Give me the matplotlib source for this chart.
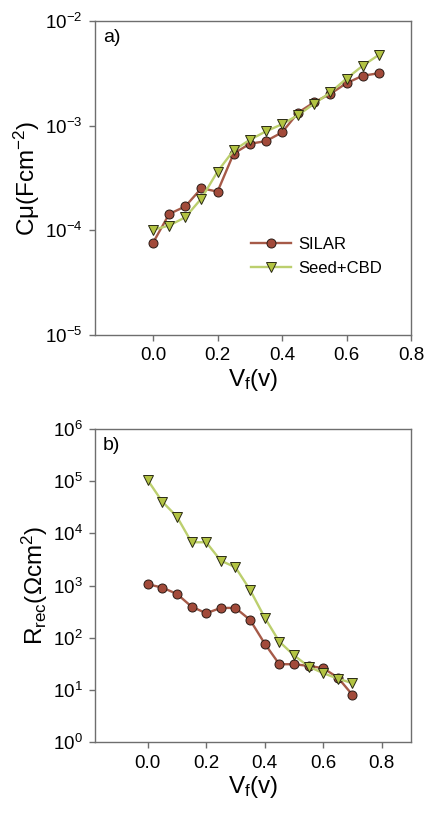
import matplotlib
matplotlib.use("Agg")
import matplotlib.pyplot as plt
import numpy as np

plt.rcParams['font.family'] = ['Liberation Sans', 'DejaVu Sans']
plt.rcParams['mathtext.fontset'] = 'custom'
plt.rcParams['mathtext.rm'] = 'Liberation Sans'
plt.rcParams['mathtext.it'] = 'Liberation Sans'
plt.rcParams['mathtext.default'] = 'regular'

# forward voltage (V)
vf = [0.0, 0.05, 0.1, 0.15, 0.2, 0.25, 0.3, 0.35, 0.4, 0.45, 0.5, 0.55, 0.6, 0.65, 0.7]

# chemical capacitance (F cm^-2)
c_silar = [7.6e-5, 1.43e-4, 1.69e-4, 2.52e-4, 2.34e-4, 5.4e-4, 6.7e-4, 7.1e-4, 8.6e-4,
           1.33e-3, 1.67e-3, 2.01e-3, 2.54e-3, 2.99e-3, 3.16e-3]
c_seed = [1.01e-4, 1.11e-4, 1.33e-4, 2.01e-4, 3.64e-4, 5.8e-4, 7.3e-4, 8.8e-4, 1.03e-3,
          1.26e-3, 1.62e-3, 2.07e-3, 2.81e-3, 3.72e-3, 4.73e-3]

# recombination resistance (Ohm cm^2)
r_silar = [1060, 912, 690, 394, 294, 372, 372, 219, 77, 31, 31, 28.8, 26, 17.2, 8.0]
r_seed = [1.05e5, 4.05e4, 2.09e4, 6750, 6750, 3000, 2235, 824, 243, 84, 46, 28, 20.9, 16.4, 13.4]

labels = ["SILAR", "Seed+CBD"]

silar_line = "#a65a48"
silar_face = "#a24a3a"
seed_line = "#bccf6e"
seed_face = "#b2c342"
spine_col = "#6e6e6e"

fig = plt.figure(figsize=(4.27, 8.18), dpi=100)
ax1 = fig.add_axes([0.2225, 0.5905, 0.740, 0.384])
ax2 = fig.add_axes([0.2225, 0.0929, 0.740, 0.3826])


def style(ax, ylo, yhi):
    ax.set_yscale('log')
    ax.set_ylim(10.0**ylo, 10.0**yhi)
    exps = list(range(ylo, yhi + 1))
    ax.set_yticks([10.0**e for e in exps])
    ax.set_yticklabels(["$10^{%d}$" % e for e in exps])
    ax.yaxis.set_minor_locator(matplotlib.ticker.NullLocator())
    for s in ax.spines.values():
        s.set_color(spine_col)
        s.set_linewidth(1.0)
    ax.tick_params(direction='out', length=4, width=1, color=spine_col,
                   labelsize=13.5, pad=5, top=False, right=False)


def draw(ax, y1, y2):
    ax.plot(vf, y1, '-o', color=silar_line, lw=1.7, mfc=silar_face, mec='#2a1a14',
            mew=0.7, ms=6.5, label=labels[0])
    ax.plot(vf, y2, '-v', color=seed_line, lw=1.7, mfc=seed_face, mec='#2a2a14',
            mew=0.7, ms=7, label=labels[1])


draw(ax1, c_silar, c_seed)
style(ax1, -5, -2)
ax1.set_xlim(-0.18, 0.8)
ax1.set_xticks([0.0, 0.2, 0.4, 0.6, 0.8])
ax1.set_xticklabels(["0.0", "0.2", "0.4", "0.6", "0.8"])
ax1.set_xlabel("V$_f$(v)", fontsize=17.5, labelpad=2)
ax1.set_ylabel("C\u03bc(Fcm$^{-2}$)", fontsize=17.5, labelpad=2)
ax1.text(0.025, 0.975, "a)", transform=ax1.transAxes, fontsize=14, va='top', ha='left')
ax1.legend(loc='upper left', bbox_to_anchor=(0.445, 0.36), frameon=False, fontsize=12,
           handlelength=2.4, labelspacing=0.55, handletextpad=0.45)

draw(ax2, r_silar, r_seed)
style(ax2, 0, 6)
ax2.set_xlim(-0.18, 0.9)
ax2.set_xticks([0.0, 0.2, 0.4, 0.6, 0.8])
ax2.set_xticklabels(["0.0", "0.2", "0.4", "0.6", "0.8"])
ax2.set_xlabel("V$_f$(v)", fontsize=17.5, labelpad=2)
ax2.set_ylabel("R$_{rec}$(\u03a9cm$^2$)", fontsize=17.5, labelpad=2)
ax2.text(0.025, 0.975, "b)", transform=ax2.transAxes, fontsize=14, va='top', ha='left')

fig.savefig("out.png", dpi=100)
